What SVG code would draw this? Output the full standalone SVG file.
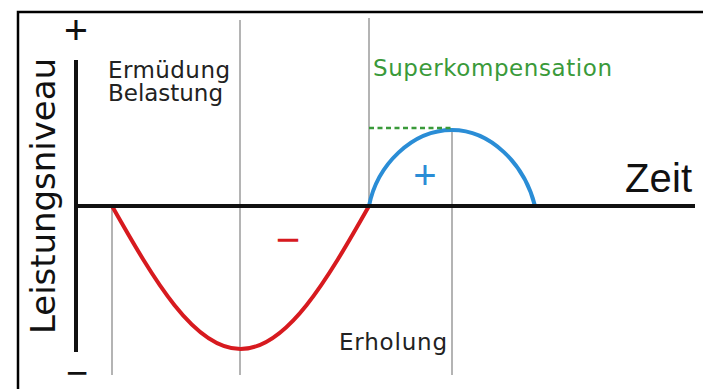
<svg xmlns="http://www.w3.org/2000/svg" width="703" height="389" viewBox="0 0 703 389">
  <style>
    .grid { stroke: #b4b4b4; stroke-width: 2; fill: none; }
    .axis { stroke: #111; stroke-width: 4; fill: none; }
    .lbl { font-family: "DejaVu Sans", "Liberation Sans", sans-serif; font-size: 23px; fill: #222; }
    .sym { font-family: "Liberation Sans", Arial, sans-serif; text-anchor: middle; }
  </style>
  <rect width="703" height="389" fill="#ffffff"/>
  <path d="M18,389 V12 H703" fill="none" stroke="#000" stroke-width="2.5"/>

  <g id="gridlines">
    <line class="grid" x1="112" y1="206" x2="112" y2="375"/>
    <line class="grid" x1="240" y1="20" x2="240" y2="375"/>
    <line class="grid" x1="369" y1="18" x2="369" y2="206"/>
    <line class="grid" x1="452" y1="130" x2="452" y2="375"/>
  </g>

  <g id="curves">
    <path id="fatigue-curve" d="M112,206 C153.9,279.8 194,349 240.5,349 C287,349 327.1,279.8 369,206" fill="none" stroke="#d71a1f" stroke-width="4"/>
    <path id="supercomp-curve" d="M369,206 C377,165 412,130 452,130 C490,130 524,163 535,206" fill="none" stroke="#2a8dd6" stroke-width="4"/>
    <line id="peak-dash" x1="369" y1="128" x2="452" y2="128" stroke="#3a9a3a" stroke-width="2.5" stroke-dasharray="5,3.5"/>
  </g>

  <g id="axes">
    <line class="axis" x1="76" y1="60" x2="76" y2="352"/>
    <line class="axis" x1="76" y1="206" x2="695" y2="206"/>
    <text class="sym" x="76" y="44" font-size="41" fill="#111">+</text>
    <text class="sym" x="77" y="386" font-size="38" fill="#111">−</text>
    <text id="y-label" transform="translate(55,334) rotate(-90)" font-family="'DejaVu Sans', 'Liberation Sans', sans-serif" font-size="34" fill="#111" textLength="276">Leistungsniveau</text>
    <text id="x-label" x="625" y="192" font-family="'Liberation Sans', Arial, sans-serif" font-size="40" fill="#111" textLength="67">Zeit</text>
  </g>

  <g id="phase-labels">
    <text class="lbl" x="108" y="78" textLength="122">Ermüdung</text>
    <text class="lbl" x="108" y="101" textLength="115">Belastung</text>
    <text class="lbl" x="373" y="76" textLength="239" style="fill:#3a9a3a">Superkompensation</text>
    <text class="lbl" x="339" y="350" textLength="108">Erholung</text>
    <text class="sym" x="288" y="254" font-size="42" fill="#d71a1f">−</text>
    <text class="sym" x="425" y="188.5" font-size="40" fill="#2a8dd6">+</text>
  </g>
</svg>
